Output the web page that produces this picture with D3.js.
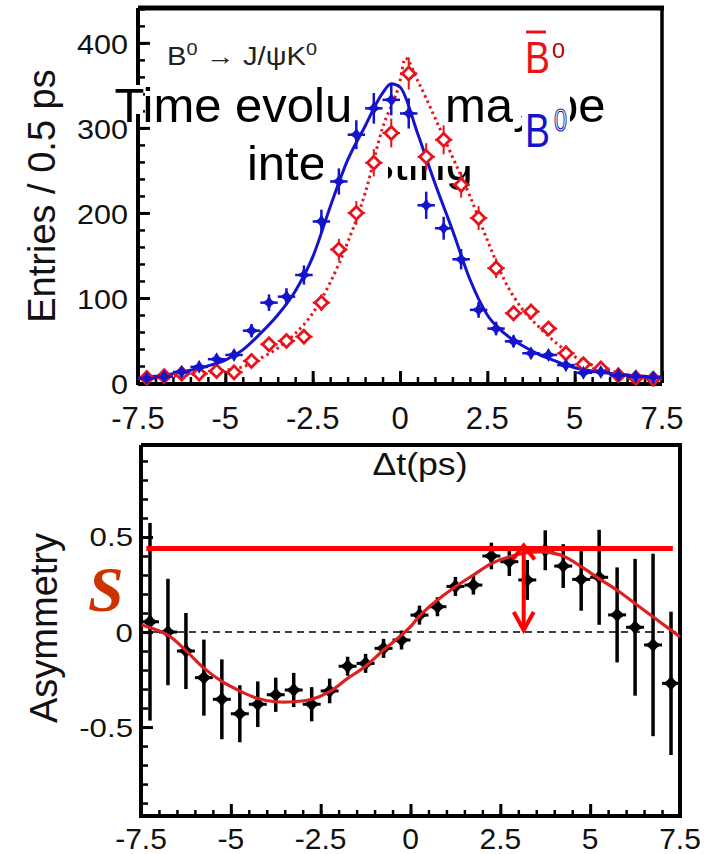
<!DOCTYPE html>
<html><head><meta charset="utf-8">
<script src="https://cdn.jsdelivr.net/npm/d3@7"></script>
<style>html,body{margin:0;padding:0;background:#fff;} svg{display:block}</style>
</head><body>
<svg id="c" width="711" height="854"></svg>
<script>
// ---------------- DATA ----------------
const bins = [-7.25,-6.75,-6.25,-5.75,-5.25,-4.75,-4.25,-3.75,-3.25,-2.75,-2.25,-1.75,-1.25,-0.75,-0.25,0.25,0.75,1.25,1.75,2.25,2.75,3.25,3.75,4.25,4.75,5.25,5.75,6.25,6.75,7.25];
const binHalf = 0.25;
// B0 (blue) entries
const b0Counts = [5.5,7.5,13,19,28,33,61.5,94.5,101.5,127,190,237,292,323,333,317,209,182,145.5,86,64,49,35,33,21,12,13,9,7.5,6.5];
const b0Errors = [2.3,2.7,3.6,4.4,5.3,5.7,7.8,9.7,10,11.3,13.8,15.4,17,18,18.2,17.8,16,13.5,12,9.3,8,7,5.9,5.7,4.6,3.5,3.6,3,2.7,2.5];
// anti-B0 (red) entries
const b0barCounts = [6,8,11,11,14,12.5,26,45.5,49.5,54.5,94.5,157,200,259,294,364,266,286,233,194,135,82,84,64,35,22,17,9,6,5];
const b0barErrors = [2.5,2.8,3.3,3.3,3.7,3.5,5,6.7,7,7.4,9.7,12.5,14,16,17,19,16,17,15,14,11.6,9,9.2,8,6,4.7,4.1,3,2.5,2.2];
// fit curves (top panel)
const b0FitT = [-7.5,-7,-6.5,-6,-5.5,-5,-4.5,-4,-3.5,-3,-2.5,-2,-1.5,-1,-0.5,-0.25,0,0.5,1,1.5,2,2.5,3,3.5,4,4.5,5,5.5,6,6.5,7,7.5];
const b0FitV = [6,8,11,15,20,27,39,58,80,108,148,207,262,302,341,352,348,294,235,180,122,80,58,44,33,25,18,14,11.5,9.5,8,7];
const b0barFitT = [-7.5,-7,-6.5,-6,-5.5,-5,-4.5,-4,-3.5,-3,-2.5,-2,-1.5,-1,-0.5,0,0.15,0.5,1,1.5,2,2.5,3,3.5,4,4.5,5,5.5,6,6.5,7,7.5];
const b0barFitV = [5,6,8,10,12,15,19,29,41,58,82,118,165,223,300,355,382,356,312,266,220,168,120,87,65,46,31,21,14.5,9.5,7,5];
// asymmetry (bottom panel)
const asymValues = [0.054,0.0,-0.10,-0.24,-0.354,-0.43,-0.38,-0.33,-0.305,-0.38,-0.31,-0.18,-0.165,-0.086,-0.042,0.089,0.133,0.24,0.247,0.40,0.37,0.274,0.43,0.347,0.277,0.288,0.09,0.025,-0.068,-0.27];
const asymErrors = [0.52,0.28,0.20,0.20,0.21,0.15,0.12,0.09,0.09,0.09,0.065,0.05,0.05,0.05,0.05,0.05,0.05,0.05,0.05,0.07,0.075,0.105,0.105,0.115,0.165,0.25,0.25,0.36,0.48,0.377];
const asymFitT = [-7.48,-6.75,-6.25,-5.75,-5.25,-4.75,-4.25,-3.75,-3.25,-2.75,-2.25,-1.75,-1.25,-0.75,-0.25,0,0.25,0.75,1.25,1.75,2.25,2.75,3.25,3.75,4.25,4.75,5.25,5.75,6.25,6.75,7.25,7.5];
const asymFitV = [0.037,-0.016,-0.098,-0.19,-0.26,-0.31,-0.35,-0.367,-0.367,-0.354,-0.314,-0.244,-0.18,-0.095,-0.016,0.028,0.084,0.168,0.238,0.30,0.36,0.396,0.417,0.42,0.40,0.344,0.28,0.22,0.15,0.08,0.01,-0.025];
const sLevel = 0.44;
const sLineT = [-7.35, 7.3];
const sArrowT = 3.15;
// ticks
const topXTicks = [-7.5,-5,-2.5,0,2.5,5,7.5];
const topXLabels = ['-7.5','-5','-2.5','0','2.5','5','7.5'];
const topYTicks = [0,100,200,300,400];
const topYLabels = ['0','100','200','300','400'];
const botXTicks = [-7.5,-5,-2.5,0,2.5,5,7.5];
const botXLabels = ['-7.5','-5','-2.5','0','2.5','5','7.5'];
const botYTicks = [-0.5,0,0.5];
const botYLabels = ['-0.5','0','0.5'];

// ---------------- DRAW ----------------
const F = "'Liberation Sans', Arial, sans-serif";
const BLUE = '#1414cc', RED = '#e8141c';
const svg = d3.select('#c');
svg.append('rect').attr('width',711).attr('height',854).attr('fill','#fff');

function stretch(sel,k){ sel.each(function(){ const l=this.getComputedTextLength(); d3.select(this).attr('textLength',l*k).attr('lengthAdjust','spacingAndGlyphs'); }); }
function star(r,k){ return `M0,${-r}L${k},${-k}L${r},0L${k},${k}L0,${r}L${-k},${k}L${-r},0L${-k},${-k}Z`; }

// scales
const xT = d3.scaleLinear().domain([-7.5,7.5]).range([138,662]);
const yT = d3.scaleLinear().domain([0,441]).range([383,8]);
const xB = d3.scaleLinear().domain([-7.5,7.5]).range([141,680]);
const yB = d3.scaleLinear().domain([-0.968,0.984]).range([816,445]);

// ===== top panel axes =====
const gT = svg.append('g');
gT.append('g').attr('transform','translate(0,383)')
  .call(d3.axisBottom(xT).tickValues(d3.range(-7.5,7.51,0.5)).tickSize(-6).tickSizeOuter(0).tickFormat(''))
  .call(g=>g.select('.domain').remove()).selectAll('line').attr('stroke','#000').attr('stroke-width',2.5);
gT.append('g').attr('transform','translate(0,383)')
  .call(d3.axisBottom(xT).tickValues(topXTicks).tickSize(-12).tickSizeOuter(0).tickFormat(''))
  .call(g=>g.select('.domain').remove()).selectAll('line').attr('stroke','#000').attr('stroke-width',3);
gT.append('g').attr('transform','translate(138,0)')
  .call(d3.axisLeft(yT).tickValues(d3.range(0,441,20)).tickSize(-7).tickSizeOuter(0).tickFormat(''))
  .call(g=>g.select('.domain').remove()).selectAll('line').attr('stroke','#000').attr('stroke-width',2.5);
gT.append('g').attr('transform','translate(138,0)')
  .call(d3.axisLeft(yT).tickValues(topYTicks).tickSize(-12).tickSizeOuter(0).tickFormat(''))
  .call(g=>g.select('.domain').remove()).selectAll('line').attr('stroke','#000').attr('stroke-width',3);
// frame
gT.append('line').attr('x1',xT(-7.5)).attr('x2',xT(-7.5)).attr('y1',yT(441)).attr('y2',yT(0)+2).attr('stroke','#000').attr('stroke-width',4);
gT.append('line').attr('x1',xT(-7.5)).attr('x2',xT(7.5)).attr('y1',yT(0)+1).attr('y2',yT(0)+1).attr('stroke','#000').attr('stroke-width',4);
gT.append('line').attr('x1',xT(-7.5)).attr('x2',xT(7.5)+2).attr('y1',yT(441)).attr('y2',yT(441)).attr('stroke','#000').attr('stroke-width',5);
gT.append('line').attr('x1',xT(7.5)).attr('x2',xT(7.5)).attr('y1',yT(441)).attr('y2',yT(0)).attr('stroke','#000').attr('stroke-width',3.5);
// tick labels
gT.selectAll('.tyl').data(topYTicks).join('text').attr('x',128).attr('y',(d)=>yT(d)+11)
  .attr('text-anchor','end').attr('font-family',F).attr('font-size',27).attr('fill','#111')
  .text((d,i)=>topYLabels[i]).call(stretch,1.13);
gT.selectAll('.txl').data(topXTicks).join('text').attr('x',d=>xT(d)).attr('y',429)
  .attr('text-anchor','middle').attr('font-family',F).attr('font-size',31).attr('fill','#111')
  .text((d,i)=>topXLabels[i]);
// y title
svg.append('text').attr('transform','translate(55,196) rotate(-90)').attr('text-anchor','middle')
  .attr('font-family',F).attr('font-size',38).attr('fill','#111').text('Entries / 0.5 ps');

// decay label
const dl = svg.append('text').attr('x',167).attr('y',65).attr('font-family',F).attr('font-size',25).attr('fill','#222');
dl.append('tspan').text('B');
dl.append('tspan').attr('dy',-10).attr('font-size',17).text('0');
dl.append('tspan').attr('dy',10).text(' \u2192 J/\u03C8K');
dl.append('tspan').attr('dy',-10).attr('font-size',17).text('0');
dl.attr('textLength',150).attr('lengthAdjust','spacingAndGlyphs');

// overlay text
svg.append('rect').attr('x',112).attr('y',85).attr('width',31).attr('height',29).attr('fill','#fff');
svg.append('text').attr('x',360).attr('y',122).attr('text-anchor','middle').attr('font-family',F).attr('font-size',49).attr('fill','#000').text('Time evolution may be');
svg.append('text').attr('x',360).attr('y',180).attr('text-anchor','middle').attr('font-family',F).attr('font-size',49).attr('fill','#000').text('interesting');
// occluding patches
const patches = [[352,78,91,50],[323,128,65,62],[388,128,94,38],[511,86,59,30],[522,116,48,36],[518,26,54,52]];
svg.selectAll('.patch').data(patches).join('rect').attr('x',d=>d[0]).attr('y',d=>d[1]).attr('width',d=>d[2]).attr('height',d=>d[3]).attr('fill','#fff');

// fits top
const lineT = (ts)=>d3.line().x((d,i)=>xT(ts[i])).y(d=>yT(d)).curve(d3.curveMonotoneX);
svg.append('path').attr('d',lineT(b0barFitT)(b0barFitV)).attr('fill','none').attr('stroke',RED).attr('stroke-width',3).attr('stroke-dasharray','2.5,3.5');
svg.append('path').attr('d',lineT(b0FitT)(b0FitV)).attr('fill','none').attr('stroke',BLUE).attr('stroke-width',3);

// red points
const rp = svg.append('g');
bins.forEach((t,i)=>{
  const v=b0barCounts[i], e=b0barErrors[i];
  rp.append('line').attr('x1',xT(t)).attr('x2',xT(t)).attr('y1',yT(v-e)).attr('y2',yT(v+e)).attr('stroke',RED).attr('stroke-width',2);
  rp.append('line').attr('x1',xT(t-binHalf)).attr('x2',xT(t+binHalf)).attr('y1',yT(v)).attr('y2',yT(v)).attr('stroke',RED).attr('stroke-width',2);
  rp.append('path').attr('d',star(6.5,3.2)).attr('transform',`translate(${xT(t)},${yT(v)})`).attr('fill','#fff').attr('stroke',RED).attr('stroke-width',2.8);
});
// blue points
const bp = svg.append('g');
bins.forEach((t,i)=>{
  const v=b0Counts[i], e=b0Errors[i];
  bp.append('line').attr('x1',xT(t)).attr('x2',xT(t)).attr('y1',yT(v-e)).attr('y2',yT(v+e)).attr('stroke',BLUE).attr('stroke-width',2.5);
  bp.append('line').attr('x1',xT(t-binHalf)).attr('x2',xT(t+binHalf)).attr('y1',yT(v)).attr('y2',yT(v)).attr('stroke',BLUE).attr('stroke-width',2.5);
  bp.append('path').attr('d',star(7,2.6)).attr('transform',`translate(${xT(t)},${yT(v)})`).attr('fill',BLUE);
});

// legend labels
svg.append('text').attr('x',525).attr('y',73).attr('font-family',F).attr('font-size',44).attr('fill',RED).attr('textLength',25).attr('lengthAdjust','spacingAndGlyphs').text('B');
svg.append('line').attr('x1',526).attr('x2',546).attr('y1',32).attr('y2',32).attr('stroke',RED).attr('stroke-width',3);
svg.append('text').attr('x',552).attr('y',58).attr('font-family',F).attr('font-size',22).attr('fill','#b00000').attr('textLength',13).attr('lengthAdjust','spacingAndGlyphs').text('0');
svg.append('text').attr('x',525).attr('y',147).attr('font-family',F).attr('font-size',48).attr('fill',BLUE).attr('textLength',25).attr('lengthAdjust','spacingAndGlyphs').text('B');
svg.append('text').attr('x',554).attr('y',131).attr('font-family',F).attr('font-size',32).attr('fill','#fff').attr('stroke','#1a1aa0').attr('stroke-width',1.2).attr('textLength',13).attr('lengthAdjust','spacingAndGlyphs').text('0');

// ===== bottom panel =====
const gB = svg.append('g');
gB.append('g').attr('transform','translate(0,816)')
  .call(d3.axisBottom(xB).tickValues(d3.range(-7.5,7.51,0.5)).tickSize(-6).tickSizeOuter(0).tickFormat(''))
  .call(g=>g.select('.domain').remove()).selectAll('line').attr('stroke','#000').attr('stroke-width',2.5);
gB.append('g').attr('transform','translate(0,816)')
  .call(d3.axisBottom(xB).tickValues(botXTicks).tickSize(-12).tickSizeOuter(0).tickFormat(''))
  .call(g=>g.select('.domain').remove()).selectAll('line').attr('stroke','#000').attr('stroke-width',3);
gB.append('g').attr('transform','translate(141,0)')
  .call(d3.axisLeft(yB).tickValues(d3.range(-0.9,0.91,0.1)).tickSize(-7).tickSizeOuter(0).tickFormat(''))
  .call(g=>g.select('.domain').remove()).selectAll('line').attr('stroke','#000').attr('stroke-width',2.5);
gB.append('g').attr('transform','translate(141,0)')
  .call(d3.axisLeft(yB).tickValues(botYTicks).tickSize(-12).tickSizeOuter(0).tickFormat(''))
  .call(g=>g.select('.domain').remove()).selectAll('line').attr('stroke','#000').attr('stroke-width',3);
gB.append('line').attr('x1',xB(-7.5)).attr('x2',xB(-7.5)).attr('y1',yB(0.984)).attr('y2',yB(-0.968)+2).attr('stroke','#000').attr('stroke-width',4);
gB.append('line').attr('x1',xB(-7.5)).attr('x2',xB(7.5)+2).attr('y1',yB(-0.968)).attr('y2',yB(-0.968)).attr('stroke','#000').attr('stroke-width',4);
gB.append('line').attr('x1',xB(-7.5)).attr('x2',xB(7.5)+2).attr('y1',yB(0.984)).attr('y2',yB(0.984)).attr('stroke','#000').attr('stroke-width',4);
gB.append('line').attr('x1',xB(7.5)).attr('x2',xB(7.5)).attr('y1',yB(0.984)).attr('y2',yB(-0.968)).attr('stroke','#000').attr('stroke-width',4);
gB.selectAll('.byl').data(botYTicks).join('text').attr('x',133).attr('y',d=>yB(d)+9.5)
  .attr('text-anchor','end').attr('font-family',F).attr('font-size',26).attr('fill','#111')
  .text((d,i)=>botYLabels[i]).call(stretch,1.2);
gB.selectAll('.bxl').data(botXTicks).join('text').attr('x',d=>xB(d)).attr('y',849)
  .attr('text-anchor','middle').attr('font-family',F).attr('font-size',30).attr('fill','#111')
  .text((d,i)=>botXLabels[i]);
svg.append('text').attr('transform','translate(57,628) rotate(-90)').attr('text-anchor','middle')
  .attr('font-family',F).attr('font-size',38).attr('fill','#111').text('Asymmetry');
svg.append('text').attr('x',420).attr('y',475).attr('text-anchor','middle').attr('font-family',F).attr('font-size',31).attr('fill','#111')
  .attr('textLength',95).attr('lengthAdjust','spacingAndGlyphs').text('\u0394t(ps)');

// zero line
svg.append('line').attr('x1',xB(-7.5)).attr('x2',xB(7.5)).attr('y1',yB(0)).attr('y2',yB(0)).attr('stroke','#000').attr('stroke-width',1.6).attr('stroke-dasharray','7,5');

// points
const ap = svg.append('g');
bins.forEach((t,i)=>{
  const v=asymValues[i], e=asymErrors[i];
  ap.append('line').attr('x1',xB(t)).attr('x2',xB(t)).attr('y1',yB(v-e)).attr('y2',yB(v+e)).attr('stroke','#000').attr('stroke-width',3.5);
  ap.append('line').attr('x1',xB(t-binHalf)).attr('x2',xB(t+binHalf)).attr('y1',yB(v)).attr('y2',yB(v)).attr('stroke','#000').attr('stroke-width',3);
  ap.append('path').attr('d',star(7.5,3.3)).attr('transform',`translate(${xB(t)},${yB(v)})`).attr('fill','#000');
});
// fit
svg.append('path').attr('d',d3.line().x((d,i)=>xB(asymFitT[i])).y(d=>yB(d)).curve(d3.curveCatmullRom)(asymFitV))
  .attr('fill','none').attr('stroke','#dd2020').attr('stroke-width',3.2);
// S line + arrow
svg.append('line').attr('x1',xB(sLineT[0])).attr('x2',xB(sLineT[1])).attr('y1',yB(sLevel)).attr('y2',yB(sLevel)).attr('stroke','#ff0000').attr('stroke-width',5);
const ax = xB(sArrowT), ay1 = yB(sLevel)-3, ay2 = yB(0)-2;
svg.append('line').attr('x1',ax).attr('x2',ax).attr('y1',ay1+2).attr('y2',ay2-2).attr('stroke','#ff0000').attr('stroke-width',4);
svg.append('path').attr('d',`M${ax-11},${ay1+14}L${ax},${ay1}L${ax+11},${ay1+14}`).attr('fill','none').attr('stroke','#ff0000').attr('stroke-width',4);
svg.append('path').attr('d',`M${ax-10},${ay2-18}L${ax},${ay2}L${ax+10},${ay2-18}`).attr('fill','none').attr('stroke','#ff0000').attr('stroke-width',4);
svg.append('text').attr('x',88).attr('y',611).attr('font-family',"'Liberation Serif', 'Times New Roman', serif").attr('font-style','italic').attr('font-weight','bold')
  .attr('font-size',64).attr('fill','#cc3300').text('S');
</script>
</body></html>
